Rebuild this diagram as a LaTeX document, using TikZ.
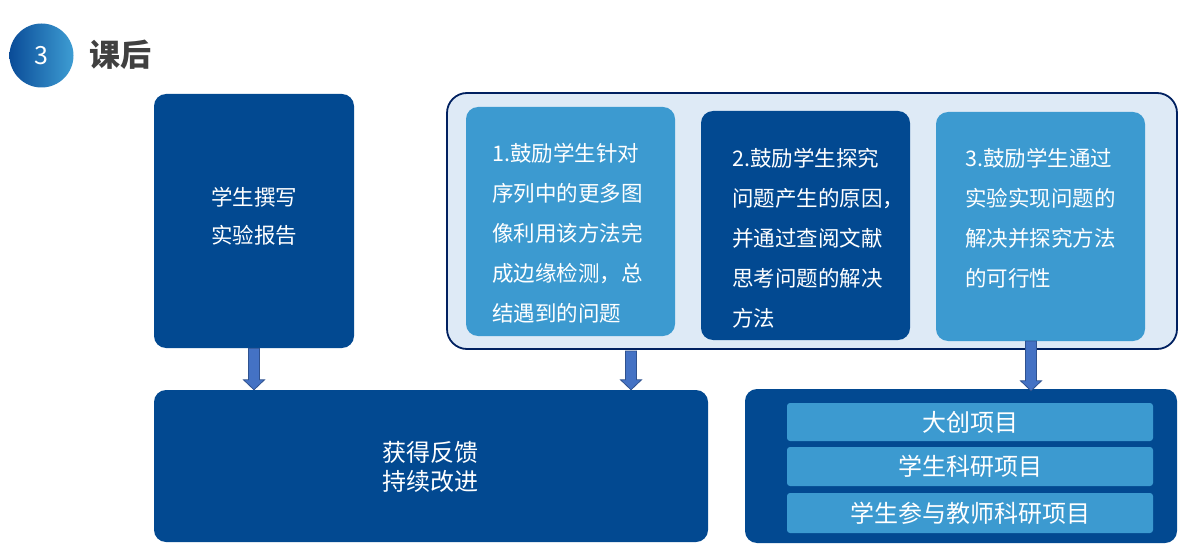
\documentclass[tikz,border=0pt]{standalone}
\usepackage{fontspec}
\setmainfont{Noto Sans CJK SC}
\usetikzlibrary{calc}
\definecolor{dblue}{RGB}{2,73,145}
\definecolor{lblue}{RGB}{60,154,208}
\definecolor{pale}{RGB}{222,234,246}
\definecolor{navy}{RGB}{0,32,96}
\definecolor{arrfill}{RGB}{68,114,196}
\definecolor{arrline}{RGB}{47,82,143}
\definecolor{titlegray}{RGB}{64,64,64}
\definecolor{gradL}{RGB}{10,76,152}
\definecolor{gradR}{RGB}{62,157,211}
\newcommand\blockarrowpath[2]{%
  \draw[blockarrow] ($(#1)+(-5.5,0)$) -- ($(#2)+(-5.5,-10)$) -- ($(#2)+(-10.5,-10)$) -- (#2)
    -- ($(#2)+(10.5,-10)$) -- ($(#2)+(5.5,-10)$) -- ($(#1)+(5.5,0)$) -- cycle;}
\begin{document}
\begin{tikzpicture}[x=1pt,y=-1pt,
  panel/.style={rounded corners=12pt, inner sep=0pt, draw=none},
  darkpanel/.style={panel, fill=dblue},
  lightpanel/.style={panel, fill=lblue},
  bar/.style={rounded corners=3pt, inner sep=0pt, fill=lblue, minimum width=366pt,
    text=white, font=\fontsize{24}{24}\selectfont},
  boxtext/.style={inner sep=0pt, text=white, align=left, anchor=west,
    font=\fontsize{21.5}{40}\selectfont},
  blockarrow/.style={fill=arrfill, draw=arrline, line width=0.8pt, line join=miter}
]
\useasboundingbox (0,0) rectangle (1202,556);

% header
\node[circle, minimum size=64pt, inner sep=0pt, left color=gradL, right color=gradR,
  text=white, font=\fontsize{25}{25}\selectfont] (badge) at (41.5,55.5) {3};
\node[inner sep=0pt, anchor=west, text=titlegray, font=\fontsize{31}{31}\selectfont\bfseries]
  (title) at (89,55) {课后};

% left top box
\node[darkpanel, minimum width=200pt, minimum height=254pt] (rep) at (254,221) {};
\node[inner sep=0pt, text=white, align=center, font=\fontsize{21.5}{38}\selectfont]
  (reptext) at (254,216) {学生撰写\\实验报告};

% container
\node[panel, rounded corners=20pt, fill=pale, draw=navy, line width=1.8pt,
  minimum width=730pt, minimum height=256pt] (cont) at (812,221) {};
\node[lightpanel, minimum width=209pt, minimum height=229pt] (b1) at (570.5,221.5) {};
\node[darkpanel, minimum width=209pt, minimum height=229pt] (b2) at (805.5,225.5) {};
\node[lightpanel, minimum width=209pt, minimum height=229pt] (b3) at (1040.5,226.5) {};
\node[boxtext] (t1) at (492,233) {1.鼓励学生针对\\序列中的更多图\\像利用该方法完\\成边缘检测，总\\结遇到的问题};
\node[boxtext] (t2) at (732,238) {2.鼓励学生探究\\问题产生的原因，\\并通过查阅文献\\思考问题的解决\\方法};
\node[boxtext] (t3) at (965,218) {3.鼓励学生通过\\实验实现问题的\\解决并探究方法\\的可行性};

% bottom boxes
\node[darkpanel, minimum width=554pt, minimum height=152pt] (fb) at (431,466) {};
\node[inner sep=0pt, text=white, align=center, font=\fontsize{24}{29}\selectfont]
  (fbtext) at (430,466.5) {获得反馈\\持续改进};
\node[darkpanel, minimum width=432pt, minimum height=154pt] (proj) at (961,466) {};
\node[bar, minimum height=38pt] (bar1) at (970,422) {大创项目};
\node[bar, minimum height=39pt] (bar2) at (970,466.5) {学生科研项目};
\node[bar, minimum height=40pt] (bar3) at (970,513) {学生参与教师科研项目};

% arrows
\coordinate (a1s) at (rep.south);
\coordinate (a1e) at (a1s |- fb.north);
\coordinate (a2s) at (631,351);
\coordinate (a2e) at (a2s |- fb.north);
\coordinate (a3s) at (1031,341);
\coordinate (a3e) at ($(a3s |- proj.north)+(0,2)$);
\blockarrowpath{a1s}{a1e}
\blockarrowpath{a2s}{a2e}
\blockarrowpath{a3s}{a3e}
\end{tikzpicture}
\end{document}
